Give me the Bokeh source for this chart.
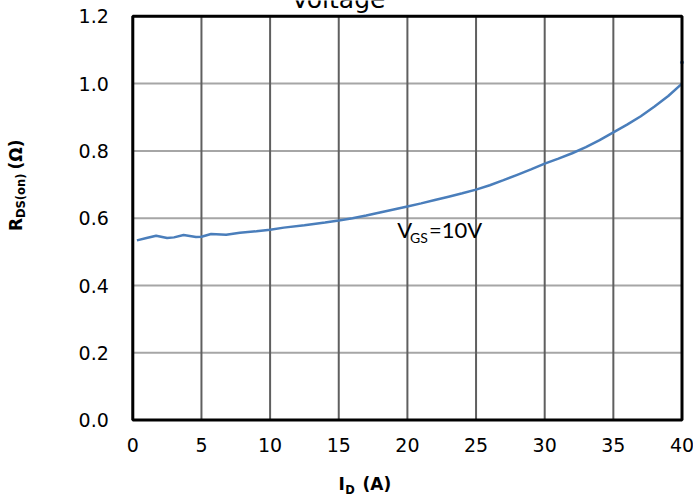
import math
from bokeh.plotting import figure
from bokeh.models import Range1d
from bokeh.core.properties import value
from bokeh.embed import file_html
from bokeh.resources import INLINE

# ---- data ----
current_a = [0.3, 1.0, 1.7, 2.5, 3.0, 3.7, 4.6, 5.0, 5.7, 6.8, 7.8, 9.0, 10, 11, 12.5, 14,
             15, 16, 17, 18, 19, 20, 21, 22, 23, 24, 25, 26, 27, 28, 29, 30, 31, 32, 33,
             34, 35, 36, 37, 38, 39, 40]
rds_on = [0.534, 0.541, 0.548, 0.541, 0.543, 0.550, 0.544, 0.545, 0.553, 0.551, 0.557,
          0.561, 0.566, 0.572, 0.579, 0.587, 0.593, 0.600, 0.608, 0.617, 0.626, 0.635,
          0.644, 0.654, 0.664, 0.674, 0.685, 0.698, 0.713, 0.729, 0.745, 0.762, 0.777,
          0.793, 0.811, 0.832, 0.855, 0.878, 0.903, 0.932, 0.963, 1.000]
stray_x = [40]
stray_y = [1.063]
x_ticks = [0, 5, 10, 15, 20, 25, 30, 35, 40]
y_ticks = [0.0, 0.2, 0.4, 0.6, 0.8, 1.0, 1.2]
x_tick_labels = [str(v) for v in x_ticks]
y_tick_labels = [f"{v:.1f}" for v in y_ticks]
title_text = "Voltage"
note_parts = ["V", "GS", "=10V"]
xlabel_parts = ["I", "D", "(A)"]
ylabel_parts = ["R", "DS(on)", "(Ω)"]

# ---- layout: the whole canvas is the frame; the plot box sits inside it ----
W, H = 693, 499
BOX_L, BOX_R, BOX_T, BOX_B = 132.3, 681.5, 15.8, 419.6   # pixel edges of the plot box
X0, X1 = min(x_ticks), max(x_ticks)
Y0, Y1 = min(y_ticks), max(y_ticks)
sx = (BOX_R - BOX_L) / (X1 - X0)
sy = (BOX_B - BOX_T) / (Y1 - Y0)


def dx(px):
    return X0 + (px - BOX_L) / sx


def dy(py):
    return Y0 + (BOX_B - py) / sy


p = figure(width=W, height=H, output_backend="svg", toolbar_location=None,
           x_range=Range1d(dx(0), dx(W)), y_range=Range1d(dy(H), dy(0)),
           x_axis_location=None, y_axis_location=None,
           min_border=0, min_border_left=0, min_border_right=0,
           min_border_top=0, min_border_bottom=0)
p.outline_line_color = None
p.background_fill_color = "white"
p.border_fill_color = "white"
for g in p.grid:
    g.visible = False

# grid lines
p.segment(x0=[X0] * len(y_ticks), y0=y_ticks, x1=[X1] * len(y_ticks), y1=y_ticks,
          line_color="#a6a6a6", line_width=2)
p.segment(x0=x_ticks, y0=[Y0] * len(x_ticks), x1=x_ticks, y1=[Y1] * len(x_ticks),
          line_color="#5f5f5f", line_width=2)

blue = "#4a7ebb"
p.line(current_a, rds_on, line_color=blue, line_width=2.5)
p.scatter(stray_x, stray_y, size=3, color=blue)

# plot box
p.quad(left=[X0], right=[X1], bottom=[Y0], top=[Y1], fill_color=None,
       line_color="black", line_width=3)

# tick labels
tick_font = value("DejaVu Sans")
p.text(x=x_ticks, y=[Y0] * len(x_ticks), text=x_tick_labels, text_font=tick_font,
       text_font_size="19px", text_color="black", text_align="center",
       text_baseline="middle", y_offset=25)
p.text(x=[X0] * len(y_ticks), y=y_ticks, text=y_tick_labels, text_font=tick_font,
       text_font_size="19px", text_color="black", text_align="right",
       text_baseline="middle", x_offset=-24)

# annotation V_GS=10V (anchors at the middle of the capitals)
lato = value("Lato")
p.text(x=[dx(396.7)], y=[dy(228.8)], text=[note_parts[0]], text_font=lato,
       text_font_size="22px", text_color="black", text_baseline="middle")
p.text(x=[dx(409.5)], y=[dy(236.7)], text=[note_parts[1]], text_font=lato,
       text_font_size="14px", text_color="black", text_baseline="middle")
p.text(x=[dx(428.5)], y=[dy(228.8)], text=[note_parts[2]], text_font=lato,
       text_font_size="22px", text_color="black", text_baseline="middle")

# title (only its lower part shows at the top edge)
p.text(x=[dx(338)], y=[dy(-1.1)], text=[title_text], text_font=tick_font,
       text_font_size="25px", text_color="black", text_align="center",
       text_baseline="middle")

# axis titles
bold = dict(text_font=value("DejaVu Sans"), text_font_style="bold", text_color="black",
            text_baseline="middle")
p.text(x=[dx(338)], y=[dy(483.8)], text=[xlabel_parts[0]], text_font_size="17px", **bold)
p.text(x=[dx(344.8)], y=[dy(489.5)], text=[xlabel_parts[1]], text_font_size="11.5px", **bold)
p.text(x=[dx(362)], y=[dy(483.8)], text=[xlabel_parts[2]], text_font_size="17px", **bold)

rot = math.pi / 2
p.text(x=[dx(15.5)], y=[dy(230.5)], text=[ylabel_parts[0]], angle=rot,
       text_font_size="17px", **bold)
p.text(x=[dx(20)], y=[dy(217.5)], text=[ylabel_parts[1]], angle=rot,
       text_font_size="11.5px", **bold)
p.text(x=[dx(15.5)], y=[dy(169)], text=[ylabel_parts[2]], angle=rot,
       text_font_size="17px", **bold)

open("out.html", "w").write(file_html(p, INLINE))
